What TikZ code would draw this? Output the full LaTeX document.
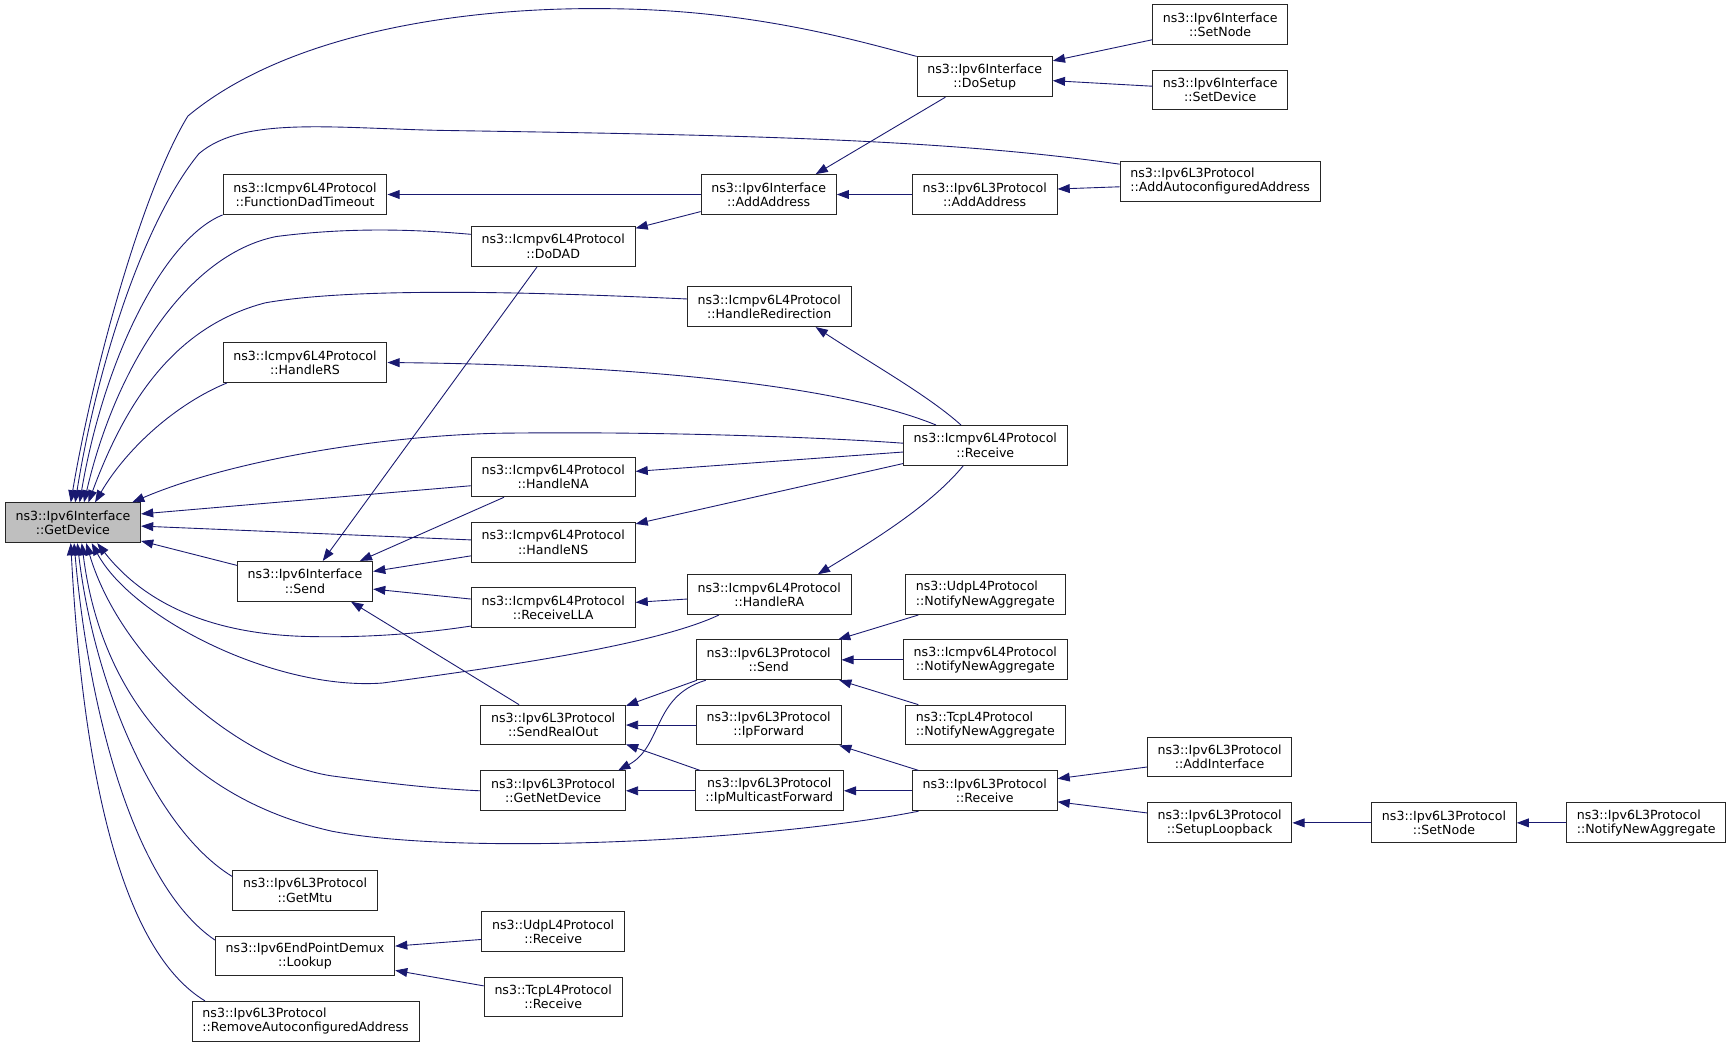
\documentclass[tikz,border=0pt]{standalone}
\usepackage{fontspec}
\setmainfont{DejaVu Sans}
\usepackage{tikz}
\usetikzlibrary{arrows.meta,calc}
\definecolor{navyedge}{HTML}{191970}
\definecolor{boxgray}{HTML}{BFBFBF}
\tikzset{
    fn/.style={draw=black!85, line width=0.9pt, fill=white, align=center, inner xsep=9.3pt, inner ysep=2pt, minimum height=36pt, font=\fontsize{11.4}{13}\selectfont},
    fnl/.style={fn, align=left},
    calls/.style={draw=navyedge, line width=0.8pt, {Triangle[length=11pt,width=8pt]}-}
}

\begin{document}
\begin{tikzpicture}[x=1pt,y=-1pt]
    \path[fill=white,use as bounding box] (0,0) rectangle (1568,947.3);
    \node[fn, fill=boxgray] (getdev) at (66,473) {ns3::Ipv6Interface\\::GetDevice};
    \node[fn] (dosetup) at (891,69.5) {ns3::Ipv6Interface\\::DoSetup};
    \node[fn] (setnode) at (1104,22.5) {ns3::Ipv6Interface\\::SetNode};
    \node[fn] (setdevice) at (1104,81.5) {ns3::Ipv6Interface\\::SetDevice};
    \node[fnl] (autoaddr) at (1104,164) {ns3::Ipv6L3Protocol\\::AddAutoconfiguredAddress};
    \node[fn] (dadtimeout) at (276,176) {ns3::Icmpv6L4Protocol\\::FunctionDadTimeout};
    \node[fn] (ifaddaddr) at (695.5,176) {ns3::Ipv6Interface\\::AddAddress};
    \node[fn] (l3addaddr) at (891,176) {ns3::Ipv6L3Protocol\\::AddAddress};
    \node[fn] (dodad) at (500.5,223) {ns3::Icmpv6L4Protocol\\::DoDAD};
    \node[fn] (redirect) at (696,277.5) {ns3::Icmpv6L4Protocol\\::HandleRedirection};
    \node[fn] (handlers) at (276,328) {ns3::Icmpv6L4Protocol\\::HandleRS};
    \node[fn] (icmprecv) at (891.5,403) {ns3::Icmpv6L4Protocol\\::Receive};
    \node[fn] (handlena) at (500.5,431.5) {ns3::Icmpv6L4Protocol\\::HandleNA};
    \node[fn] (handlens) at (500.5,490.5) {ns3::Icmpv6L4Protocol\\::HandleNS};
    \node[fn] (ifsend) at (276,526) {ns3::Ipv6Interface\\::Send};
    \node[fn] (recvlla) at (500.5,550) {ns3::Icmpv6L4Protocol\\::ReceiveLLA};
    \node[fn] (handlera) at (696,538) {ns3::Icmpv6L4Protocol\\::HandleRA};
    \node[fnl] (udpnna) at (891.5,538) {ns3::UdpL4Protocol\\::NotifyNewAggregate};
    \node[fn] (l3send) at (695.5,597) {ns3::Ipv6L3Protocol\\::Send};
    \node[fn] (icmpnna) at (891.5,597) {ns3::Icmpv6L4Protocol\\::NotifyNewAggregate};
    \node[fnl] (tcpnna) at (891.5,656) {ns3::TcpL4Protocol\\::NotifyNewAggregate};
    \node[fn] (sendrealout) at (500.5,656) {ns3::Ipv6L3Protocol\\::SendRealOut};
    \node[fn] (ipforward) at (695.5,656) {ns3::Ipv6L3Protocol\\::IpForward};
    \node[fn] (getnetdev) at (500.5,715.5) {ns3::Ipv6L3Protocol\\::GetNetDevice};
    \node[fn] (ipmcast) at (696,715.5) {ns3::Ipv6L3Protocol\\::IpMulticastForward};
    \node[fn] (l3recv) at (891,715.5) {ns3::Ipv6L3Protocol\\::Receive};
    \node[fn] (addiface) at (1103.5,685) {ns3::Ipv6L3Protocol\\::AddInterface};
    \node[fn] (setuploop) at (1103.5,744.5) {ns3::Ipv6L3Protocol\\::SetupLoopback};
    \node[fn] (l3setnode) at (1306.5,744.5) {ns3::Ipv6L3Protocol\\::SetNode};
    \node[fnl] (l3nna) at (1489.5,744.5) {ns3::Ipv6L3Protocol\\::NotifyNewAggregate};
    \node[fn] (getmtu) at (276,805.5) {ns3::Ipv6L3Protocol\\::GetMtu};
    \node[fn] (lookup) at (276,865) {ns3::Ipv6EndPointDemux\\::Lookup};
    \node[fn] (udprecv) at (500.5,843) {ns3::UdpL4Protocol\\::Receive};
    \node[fn] (tcprecv) at (500.5,902) {ns3::TcpL4Protocol\\::Receive};
    \node[fnl] (removeaddr) at (276.5,924) {ns3::Ipv6L3Protocol\\::RemoveAutoconfiguredAddress};

    \draw[calls] ($(getdev.north)+(-2,0)$) .. controls (85,330) and (130,170) .. (170,105) .. controls (260,30) and (420,5) .. (560,8) .. controls (680,10) and (770,35) .. (dosetup.north west);
    \draw[calls] ($(getdev.north)+(2,0)$) .. controls (88,330) and (130,200) .. (180,139) .. controls (220,105) and (300,116) .. (400,118) .. controls (650,122) and (850,125) .. ($(autoaddr.north west)+(0,3)$);
    \draw[calls] ($(getdev.north)+(6,0)$) .. controls (95,320) and (150,215) .. (dadtimeout.south west);
    \draw[calls] ($(getdev.north)+(10,0)$) .. controls (105,330) and (170,230) .. (250,214) .. controls (320,205) and (380,208) .. ($(dodad.west)+(0,-11)$);
    \draw[calls] ($(getdev.north)+(14,0)$) .. controls (115,360) and (160,295) .. (240,274) .. controls (330,258) and (520,266) .. ($(redirect.west)+(0,-7)$);
    \draw[calls] ($(getdev.north)+(20,0)$) .. controls (115,405) and (160,365) .. ($(handlers.south west)+(4,0)$);
    \draw[calls] ($(getdev.north east)+(-8,0)$) .. controls (200,420) and (330,395) .. (450,392) .. controls (600,390) and (750,396) .. ($(icmprecv.west)+(0,-2)$);
    \draw[calls] ($(getdev.east)+(0,-8)$) -- ($(handlena.west)+(0,8)$);
    \draw[calls] ($(getdev.east)+(0,3)$) -- ($(handlens.west)+(0,-2)$);
    \draw[calls] ($(getdev.south east)+(0,-2)$) -- ($(ifsend.north west)+(0,4)$);
    \draw[calls] ($(getdev.south)+(22,0)$) .. controls (130,545) and (190,575) .. (284,576) .. controls (340,577) and (390,572) .. ($(recvlla.south west)+(0,-2)$);
    \draw[calls] ($(getdev.south)+(17,0)$) .. controls (120,560) and (250,625) .. (346,618) .. controls (440,605) and (590,585) .. ($(handlera.south west)+(29,0)$);
    \draw[calls] ($(getdev.south)+(12,0)$) .. controls (110,600) and (220,690) .. (300,702) .. controls (360,710) and (400,714) .. (getnetdev.west);
    \draw[calls] ($(getdev.south)+(8,0)$) .. controls (90,620) and (160,720) .. (300,752) .. controls (420,775) and (700,760) .. ($(l3recv.south west)+(6,0)$);
    \draw[calls] ($(getdev.south)+(4,0)$) .. controls (85,620) and (140,750) .. ($(getmtu.north west)+(0,6)$);
    \draw[calls] ($(getdev.south)+(1,0)$) .. controls (80,640) and (120,800) .. ($(lookup.north west)+(0,4)$);
    \draw[calls] ($(getdev.south)+(-2,0)$) .. controls (75,700) and (110,860) .. ($(removeaddr.north west)+(12,0)$);

    \draw[calls] ($(dosetup.north east)+(0,4)$) -- ($(setnode.west)+(0,13.5)$);
    \draw[calls] ($(dosetup.east)+(0,3.5)$) -- ($(setdevice.west)+(0,-3.5)$);
    \draw[calls] ($(ifaddaddr.north)+(42.5,0)$) -- ($(dosetup.south west)+(26,0)$);
    \draw[calls] (dadtimeout.east) -- (ifaddaddr.west);
    \draw[calls] (ifaddaddr.east) -- (l3addaddr.west);
    \draw[calls] ($(l3addaddr.east)+(0,-5)$) -- ($(autoaddr.west)+(0,5)$);
    \draw[calls] ($(dodad.north east)+(0,2)$) -- ($(ifaddaddr.south west)+(0,-3)$);
    \draw[calls] ($(redirect.south)+(42,0)$) .. controls (790,330) and (840,358) .. ($(icmprecv.north)+(-22,0)$);
    \draw[calls] (handlers.east) .. controls (550,330) and (750,345) .. ($(icmprecv.north west)+(30,0)$);
    \draw[calls] ($(handlena.east)+(0,-5)$) -- ($(icmprecv.west)+(0,6)$);
    \draw[calls] ($(handlens.north east)+(0,2)$) -- ($(icmprecv.south west)+(0,-2)$);
    \draw[calls] ($(ifsend.north east)+(-12,0)$) -- ($(handlena.south west)+(30,0)$);
    \draw[calls] ($(ifsend.east)+(0,-9)$) -- ($(handlens.south west)+(0,-6)$);
    \draw[calls] ($(ifsend.east)+(0,7)$) -- ($(recvlla.west)+(0,-8)$);
    \draw[calls] ($(ifsend.north)+(16,0)$) -- ($(dodad.south west)+(60,0)$);
    \draw[calls] ($(ifsend.south east)+(-20,0)$) -- ($(sendrealout.north west)+(35,0)$);
    \draw[calls] ($(recvlla.east)+(0,-5)$) -- ($(handlera.west)+(0,4)$);
    \draw[calls] ($(handlera.north)+(44,0)$) .. controls (780,495) and (840,460) .. ($(icmprecv.south)+(-20,0)$);
    \draw[calls] ($(l3send.north east)+(-3,0)$) -- ($(udpnna.south west)+(12,0)$);
    \draw[calls] (l3send.east) -- (icmpnna.west);
    \draw[calls] ($(l3send.south east)+(-2,0)$) -- ($(tcpnna.north west)+(12,0)$);
    \draw[calls] ($(sendrealout.north east)+(0,1)$) -- ($(l3send.south west)+(1,0)$);
    \draw[calls] ($(getnetdev.north east)+(-7,0)$) .. controls (600,675) and (590,630) .. ($(l3send.south west)+(9,0)$);
    \draw[calls] (sendrealout.east) -- (ipforward.west);
    \draw[calls] ($(sendrealout.south east)+(0,-1)$) -- ($(ipmcast.north west)+(5,0)$);
    \draw[calls] (getnetdev.east) -- (ipmcast.west);
    \draw[calls] ($(ipforward.south east)+(-2,0)$) -- ($(l3recv.north west)+(6,0)$);
    \draw[calls] (ipmcast.east) -- (l3recv.west);
    \draw[calls] ($(l3recv.east)+(0,-11)$) -- ($(addiface.west)+(0,9)$);
    \draw[calls] ($(l3recv.east)+(0,10)$) -- ($(setuploop.west)+(0,-9)$);
    \draw[calls] (setuploop.east) -- (l3setnode.west);
    \draw[calls] (l3setnode.east) -- (l3nna.west);
    \draw[calls] ($(lookup.east)+(0,-9)$) -- ($(udprecv.west)+(0,7)$);
    \draw[calls] ($(lookup.east)+(0,13)$) -- ($(tcprecv.west)+(0,-10)$);
\end{tikzpicture}
\end{document}
